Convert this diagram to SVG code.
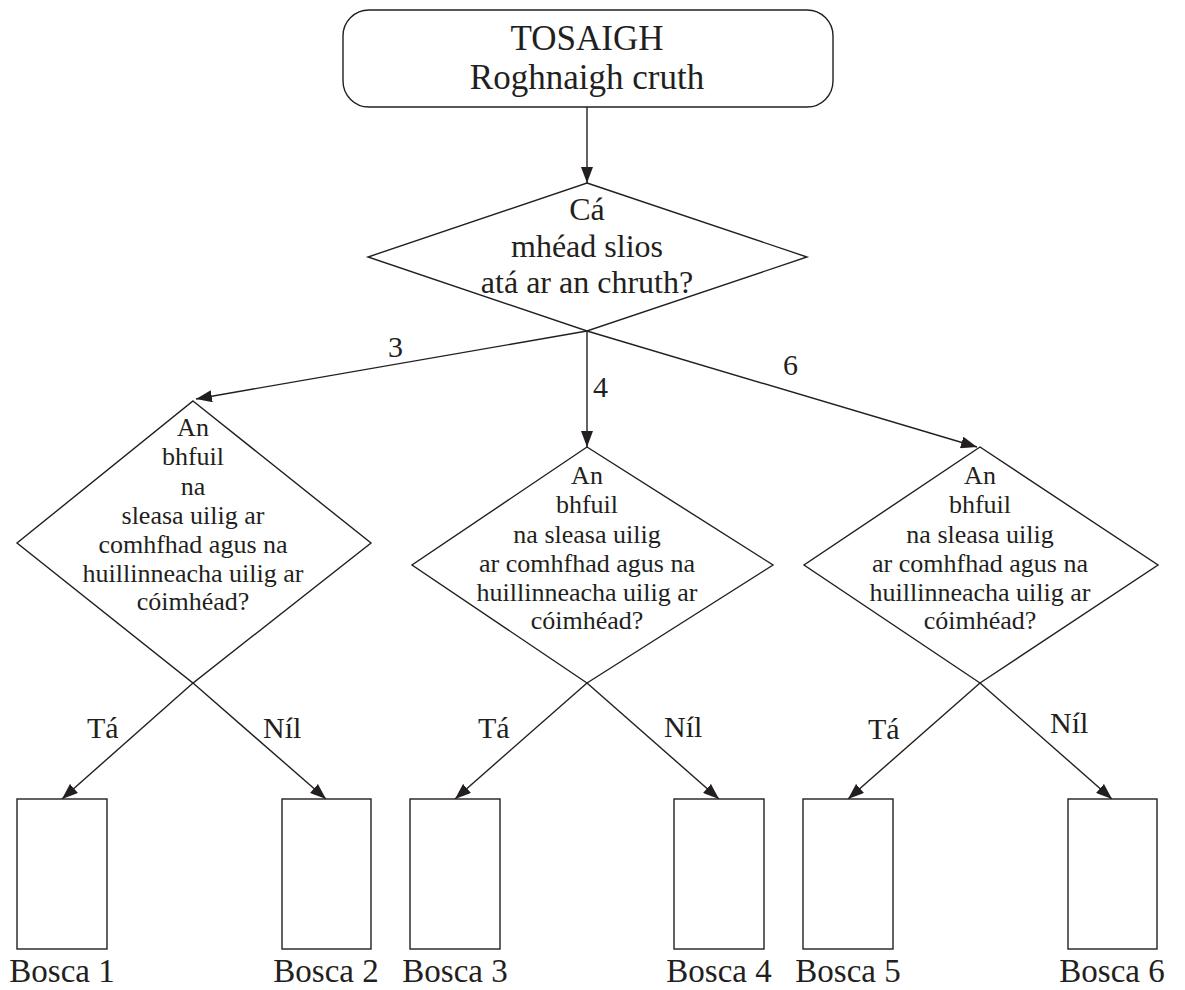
<svg xmlns="http://www.w3.org/2000/svg" width="1185" height="990" viewBox="0 0 1185 990">
<style>
.s{fill:#fff;stroke:#231f20;stroke-width:1.4}
.t{font-family:"Liberation Serif","Times New Roman",serif;fill:#231f20;text-anchor:middle}
.c{stroke:#231f20;stroke-width:1.4;fill:none;marker-end:url(#ah)}
.l{font-family:"Liberation Serif","Times New Roman",serif;fill:#231f20;font-size:30px}
</style>
<defs>
<marker id="ah" viewBox="0 0 16 12" refX="16" refY="6" markerWidth="16" markerHeight="12" markerUnits="userSpaceOnUse" orient="auto">
<path d="M0,0 L16,6 L0,12 Z" fill="#231f20"/>
</marker>
</defs>
<rect width="1185" height="990" fill="#fff"/>
<g id="connectors">
<line class="c" x1="587" y1="107" x2="587" y2="183"/>
<line class="c" x1="587" y1="331" x2="196" y2="399"/>
<line class="c" x1="587" y1="331" x2="587" y2="447"/>
<line class="c" x1="587" y1="331" x2="977" y2="447"/>
<line class="c" x1="193" y1="683" x2="62" y2="799"/>
<line class="c" x1="193" y1="683" x2="326" y2="799"/>
<line class="c" x1="587" y1="683" x2="455" y2="799"/>
<line class="c" x1="587" y1="683" x2="719" y2="799"/>
<line class="c" x1="980" y1="683" x2="848" y2="799"/>
<line class="c" x1="980" y1="683" x2="1112" y2="799"/>
<text class="l" x="388" y="357">3</text>
<text class="l" x="593" y="397">4</text>
<text class="l" x="783" y="375">6</text>
<text class="l" x="87" y="738">Tá</text>
<text class="l" x="263" y="738">Níl</text>
<text class="l" x="478" y="738">Tá</text>
<text class="l" x="664" y="737">Níl</text>
<text class="l" x="868" y="739">Tá</text>
<text class="l" x="1050" y="733">Níl</text>
</g>
<g id="start">
<rect class="s" x="343" y="10" width="490" height="97" rx="26"/>
<text class="t" x="587" y="50" font-size="35">TOSAIGH</text>
<text class="t" x="587" y="89" font-size="35">Roghnaigh cruth</text>
</g>
<g id="d0">
<polygon class="s" points="587,183 807,257 587,331 368,257"/>
<text class="t" font-size="32"><tspan x="587" y="220">Cá</tspan><tspan x="587" y="257">mhéad slios</tspan><tspan x="587" y="293">atá ar an chruth?</tspan></text>
</g>
<g id="d1">
<polygon class="s" points="193,401 371,543 193,683 17,543"/>
<text class="t" font-size="26"><tspan x="193" y="436">An</tspan><tspan x="193" y="465">bhfuil</tspan><tspan x="193" y="495">na</tspan><tspan x="193" y="524">sleasa uilig ar</tspan><tspan x="193" y="553">comhfhad agus na</tspan><tspan x="193" y="582">huillinneacha uilig ar</tspan><tspan x="193" y="610">cóimhéad?</tspan></text>
</g>
<g id="d2">
<polygon class="s" points="587,447 773,565 587,683 412,565"/>
<text class="t" font-size="26"><tspan x="587" y="484">An</tspan><tspan x="587" y="513">bhfuil</tspan><tspan x="587" y="543">na sleasa uilig</tspan><tspan x="587" y="572">ar comhfhad agus na</tspan><tspan x="587" y="601">huillinneacha uilig ar</tspan><tspan x="587" y="629">cóimhéad?</tspan></text>
</g>
<g id="d3">
<polygon class="s" points="980,447 1158,565 980,683 804,565"/>
<text class="t" font-size="26"><tspan x="980" y="484">An</tspan><tspan x="980" y="513">bhfuil</tspan><tspan x="980" y="543">na sleasa uilig</tspan><tspan x="980" y="572">ar comhfhad agus na</tspan><tspan x="980" y="601">huillinneacha uilig ar</tspan><tspan x="980" y="629">cóimhéad?</tspan></text>
</g>
<g id="b1"><rect class="s" x="17" y="799" width="90" height="150"/><text class="t" x="62" y="982" font-size="33">Bosca 1</text></g>
<g id="b2"><rect class="s" x="282" y="799" width="89" height="150"/><text class="t" x="326" y="982" font-size="33">Bosca 2</text></g>
<g id="b3"><rect class="s" x="410" y="799" width="90" height="150"/><text class="t" x="455" y="982" font-size="33">Bosca 3</text></g>
<g id="b4"><rect class="s" x="674" y="799" width="90" height="150"/><text class="t" x="719" y="982" font-size="33">Bosca 4</text></g>
<g id="b5"><rect class="s" x="803" y="799" width="90" height="150"/><text class="t" x="848" y="982" font-size="33">Bosca 5</text></g>
<g id="b6"><rect class="s" x="1068" y="799" width="89" height="150"/><text class="t" x="1112" y="982" font-size="33">Bosca 6</text></g>
</svg>
